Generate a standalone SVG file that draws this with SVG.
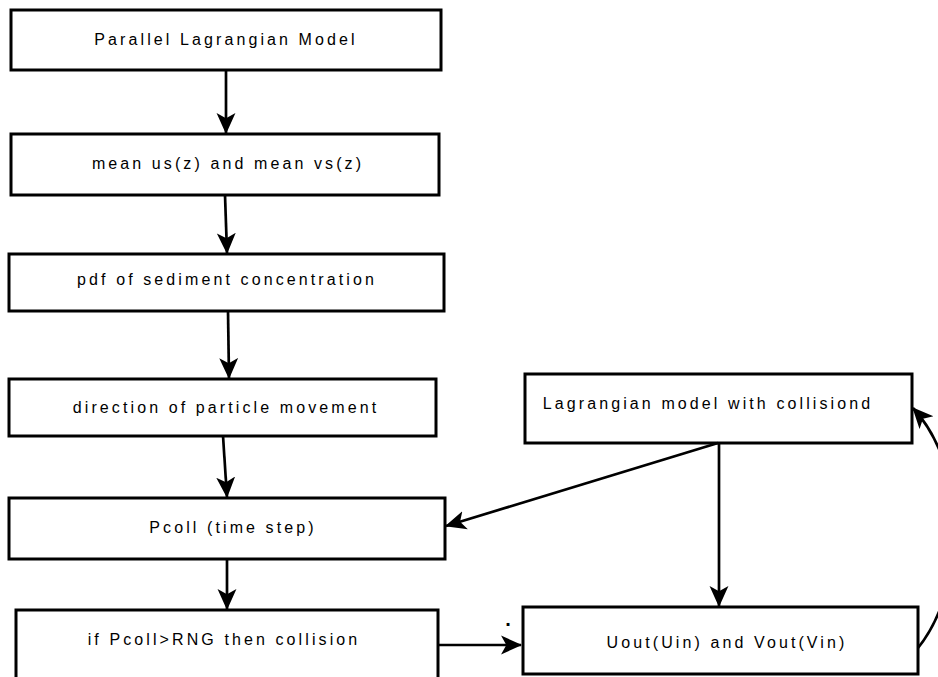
<svg xmlns="http://www.w3.org/2000/svg" width="938" height="677" viewBox="0 0 938 677">
<defs>
<style>
.box{fill:#fff;stroke:#000;stroke-width:3}
.lbl{font-family:"Liberation Sans",Arial,sans-serif;font-size:16px;letter-spacing:3.1px;fill:#000;text-anchor:middle}
.edge{fill:none;stroke:#000;stroke-width:2.7}
</style>
<marker id="arr" viewBox="0 0 20 20" markerWidth="21" markerHeight="21" refX="19" refY="10" orient="auto" markerUnits="userSpaceOnUse">
<path d="M0,1 L20,10 L0,19 L5,10 Z" fill="#000"/>
</marker>
</defs>
<rect width="938" height="677" fill="#fff"/>
<g id="n1"><rect class="box" x="11" y="10" width="430" height="60"/><text class="lbl" x="226" y="45">Parallel Lagrangian Model</text></g>
<g id="n2"><rect class="box" x="11" y="134" width="428" height="61"/><text class="lbl" x="228" y="169">mean us(z) and mean vs(z)</text></g>
<g id="n3"><rect class="box" x="9" y="254" width="435" height="57"/><text class="lbl" x="227" y="285">pdf of sediment concentration</text></g>
<g id="n4"><rect class="box" x="9" y="379" width="427" height="57"/><text class="lbl" x="226" y="413">direction of particle movement</text></g>
<g id="n5"><rect class="box" x="9" y="498" width="436" height="61"/><text class="lbl" x="233" y="533">Pcoll (time step)</text></g>
<g id="n6"><rect class="box" x="16" y="610" width="422" height="80"/><text class="lbl" x="224" y="645">if Pcoll&gt;RNG then collision</text></g>
<g id="n7"><rect class="box" x="525" y="374" width="387" height="69"/><text class="lbl" x="708" y="409">Lagrangian model with collisiond</text></g>
<g id="n8"><rect class="box" x="523" y="607" width="395" height="67"/><text class="lbl" x="727" y="648">Uout(Uin) and Vout(Vin)</text></g>
<text class="lbl" x="508" y="626" style="letter-spacing:0;font-size:20px;font-weight:bold">.</text>
<g id="edges">
<path class="edge" d="M226,70 L226,133" marker-end="url(#arr)"/>
<path class="edge" d="M225,195 L227,253" marker-end="url(#arr)"/>
<path class="edge" d="M228,311 L229,378" marker-end="url(#arr)"/>
<path class="edge" d="M223,436 L227,497" marker-end="url(#arr)"/>
<path class="edge" d="M227,559 L227,609" marker-end="url(#arr)"/>
<path class="edge" d="M718,443 L446,526" marker-end="url(#arr)"/>
<path class="edge" d="M719,443 L719,606" marker-end="url(#arr)"/>
<path class="edge" d="M438,645 L521,645" marker-end="url(#arr)"/>
<path class="edge" d="M918,648 C965,590 970,470 913,408" marker-end="url(#arr)"/>
</g>
</svg>
